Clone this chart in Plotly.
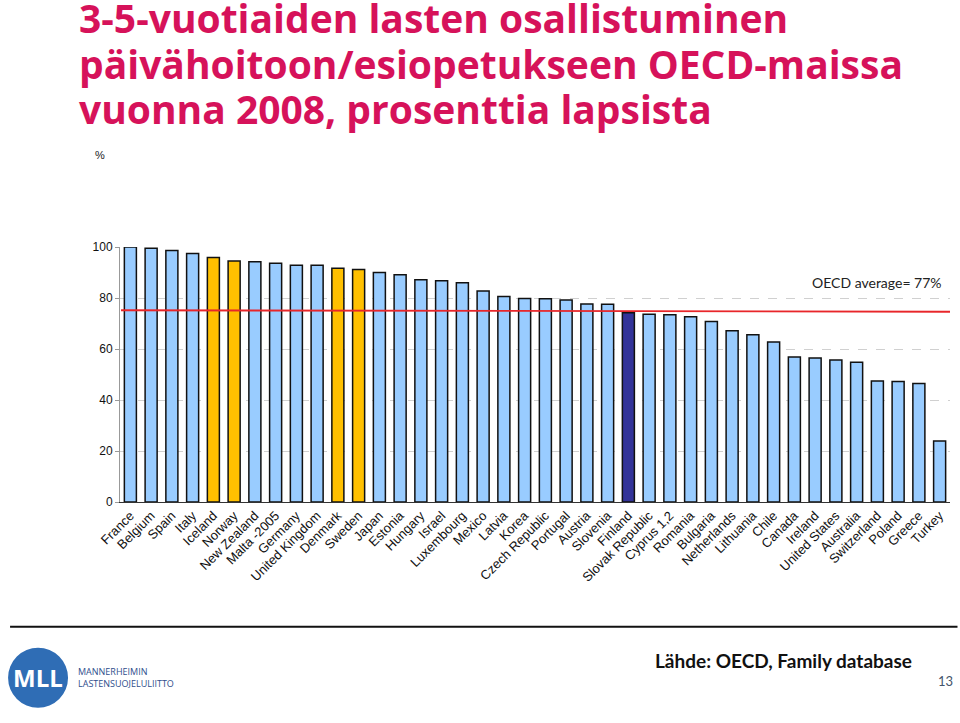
import plotly.graph_objects as go

countries = ["France", "Belgium", "Spain", "Italy", "Iceland", "Norway", "New Zealand",
             "Malta -2005", "Germany", "United Kingdom", "Denmark", "Sweden", "Japan",
             "Estonia", "Hungary", "Israel", "Luxembourg", "Mexico", "Latvia", "Korea",
             "Czech Republic", "Portugal", "Austria", "Slovenia", "Finland",
             "Slovak Republic", "Cyprus 1,2", "Romania", "Bulgaria", "Netherlands",
             "Lithuania", "Chile", "Canada", "Ireland", "United States", "Australia",
             "Switzerland", "Poland", "Greece", "Turkey"]
values = [100.0, 99.5, 98.6, 97.5, 95.9, 94.5, 94.2, 93.6, 92.8, 92.8, 91.7, 91.2, 90.0,
          89.1, 87.2, 86.8, 86.0, 82.7, 80.6, 79.8, 79.7, 79.2, 77.6, 77.5, 74.2,
          73.6, 73.4, 72.6, 70.8, 67.2, 65.6, 62.7, 56.9, 56.5, 55.7, 54.8,
          47.5, 47.3, 46.5, 23.9]
nordic = ["Iceland", "Norway", "Denmark", "Sweden"]
highlight = ["Finland"]
y_ticks = [0, 20, 40, 60, 80, 100]
avg_line_x = [-0.45, 39.8]
avg_line_y = [75.2, 74.6]
avg_label = "OECD average= 77%"

title_lines = ["3-5-vuotiaiden lasten osallistuminen",
               "päivähoitoon/esiopetukseen OECD-maissa",
               "vuonna 2008, prosenttia lapsista"]

colors = []
for c in countries:
    if c in highlight:
        colors.append("#333399")
    elif c in nordic:
        colors.append("#FFC000")
    else:
        colors.append("#99CCFF")

W, H = 960, 723
L, R, T, B = 120, 950.5, 247.3, 502.3


def px(x):
    return (x - L) / (R - L)


def py(y):
    return (B - y) / (B - T)


xs = list(range(len(countries)))

fig = go.Figure()
fig.add_trace(go.Bar(x=xs, y=values, marker=dict(color=colors, line=dict(color="#111111", width=1.5)),
                     width=0.58, showlegend=False, hoverinfo="x+y"))
fig.add_trace(go.Scatter(x=avg_line_x, y=avg_line_y, mode="lines",
                         line=dict(color="#E8262A", width=1.8), showlegend=False,
                         cliponaxis=False, hoverinfo="skip"))

title_html = "<br>".join("<span style='font-size:39px'>%s</span>" % t for t in title_lines)

annotations = [
    dict(text=title_html, xref="paper", yref="paper", x=px(77), y=py(-11),
         xanchor="left", yanchor="top", align="left", showarrow=False,
         font=dict(family="Open Sans", size=35, weight=700, color="#D6125A")),
    dict(text="%", xref="paper", yref="paper", x=px(100), y=py(155), showarrow=False,
         xanchor="center", yanchor="middle", font=dict(family="Liberation Sans", size=11, color="#222")),
    dict(text=avg_label, xref="paper", yref="paper", x=px(944), y=py(283), showarrow=False,
         xanchor="right", yanchor="middle", font=dict(family="Lato", size=14, color="#222")),
    dict(text="<b>Lähde: OECD, Family database</b>", xref="paper", yref="paper", x=px(784), y=py(661),
         showarrow=False, xanchor="center", yanchor="middle",
         font=dict(family="Lato", size=19, color="#111")),
    dict(text="13", xref="paper", yref="paper", x=px(956), y=py(681), showarrow=False,
         xanchor="right", yanchor="middle", font=dict(family="Lato", size=13, color="#44546A")),
    dict(text="<b>MLL</b>", xref="paper", yref="paper", x=px(38), y=py(678), showarrow=False,
         xanchor="center", yanchor="middle", font=dict(family="Open Sans", size=24, color="white")),
    dict(text="MANNERHEIMIN<br>LASTENSUOJELULIITTO", xref="paper", yref="paper", x=px(76), y=py(678),
         showarrow=False, xanchor="left", yanchor="middle", align="left",
         font=dict(family="Open Sans", size=9, color="#2F4E8C")),
]

shapes = [
    dict(type="line", xref="paper", yref="paper", x0=px(10), x1=px(958), y0=py(627), y1=py(627),
         line=dict(color="#111", width=2)),
    dict(type="circle", xref="paper", yref="paper", x0=px(8), x1=px(68), y0=py(708), y1=py(648),
         fillcolor="#2F6DB5", line=dict(width=0)),
]

fig.update_layout(
    width=W, height=H,
    margin=dict(l=L, r=W - R, t=T, b=H - B, pad=0),
    paper_bgcolor="white", plot_bgcolor="white",
    bargap=0.42,
    annotations=annotations, shapes=shapes,
    xaxis=dict(tickmode="array", tickvals=xs, ticktext=countries, tickangle=-45,
               range=[-0.5, len(countries) - 0.5], showgrid=False, showline=True,
               linecolor="#333", linewidth=1, ticks="", zeroline=False,
               tickfont=dict(family="Liberation Sans", size=13, color="#111")),
    yaxis=dict(range=[0, 100], tickvals=y_ticks, showgrid=True, gridcolor="#D0D0D0",
               griddash="dash", gridwidth=1, showline=True, linecolor="#999", linewidth=1,
               ticks="outside", ticklen=4, tickcolor="#999", zeroline=False,
               tickfont=dict(family="Liberation Sans", size=12, color="#111")),
)

fig.write_html("out.html", config={"displayModeBar": False},
               post_script="document.body.style.margin='0';document.body.style.overflow='hidden';")
